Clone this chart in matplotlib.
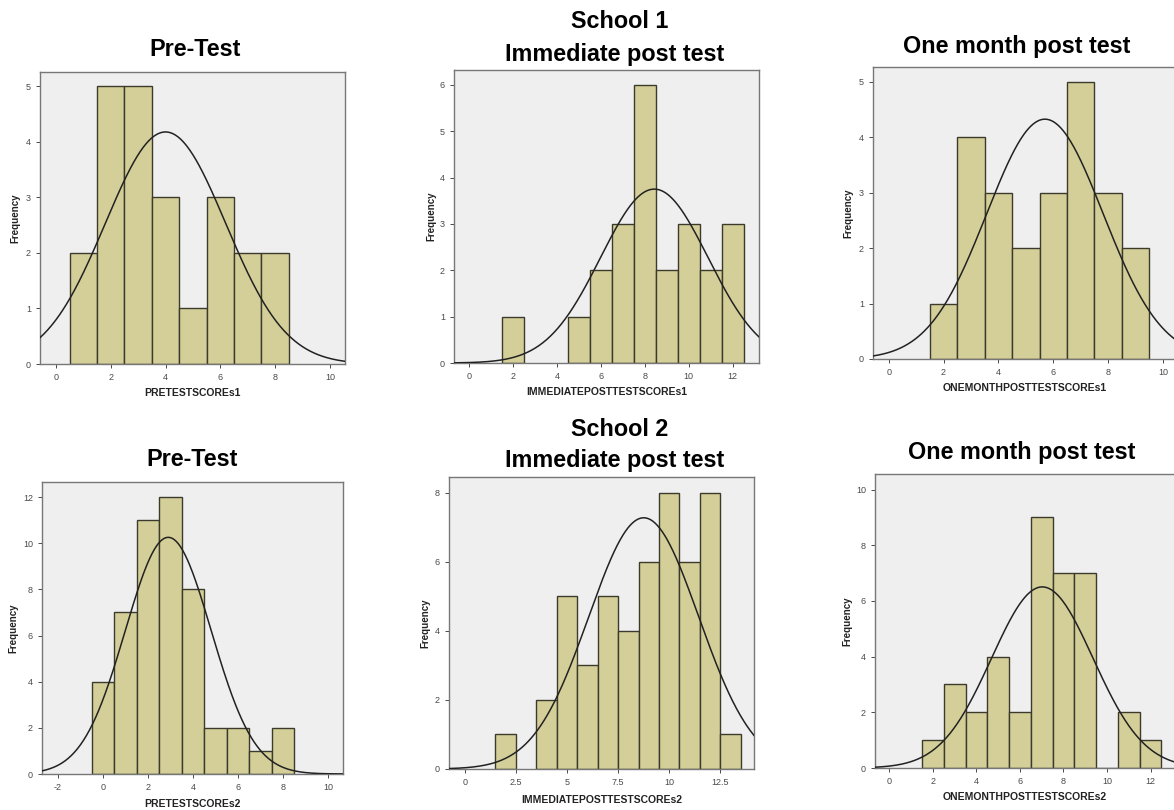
"""Six SPSS-style histograms with fitted normal curves (two schools x three tests)"""
import numpy as np
from matplotlib import pyplot as plt
from matplotlib.ticker import FormatStrFormatter

# bin centres (width 1) and frequencies
pre1_bins = [1, 2, 3, 4, 5, 6, 7, 8]
pre1_counts = [2, 5, 5, 3, 1, 3, 2, 2]

imm1_bins = [2, 5, 6, 7, 8, 9, 10, 11, 12]
imm1_counts = [1, 1, 2, 3, 6, 2, 3, 2, 3]

month1_bins = [2, 3, 4, 5, 6, 7, 8, 9]
month1_counts = [1, 4, 3, 2, 3, 5, 3, 2]

pre2_bins = [0, 1, 2, 3, 4, 5, 6, 7, 8]
pre2_counts = [4, 7, 11, 12, 8, 2, 2, 1, 2]

imm2_bins = [2, 4, 5, 6, 7, 8, 9, 10, 11, 12, 13]
imm2_counts = [1, 2, 5, 3, 5, 4, 6, 8, 6, 8, 1]

month2_bins = [2, 3, 4, 5, 6, 7, 8, 9, 10, 11, 12]
month2_counts = [1, 3, 2, 4, 2, 9, 7, 7, 0, 2, 1]

W, H = 1174, 810
BAR = "#d4cf98"
BG = "#efefef"

plt.rcParams["font.family"] = ["Liberation Sans", "DejaVu Sans"]

fig = plt.figure(figsize=(W / 100, H / 100), dpi=100)


def px_axes(left, top, right, bottom):
    return fig.add_axes([left / W, 1 - bottom / H, (right - left) / W, (bottom - top) / H])


panels = [
    # bins, counts, box (px), xlim, ylim, xticks, yticks, xlabel, xlabel pos, ylabel x
    (pre1_bins, pre1_counts, (40, 72, 345, 364), (-0.58, 10.55), (0, 5.26),
     np.arange(0, 11, 2), range(0, 6), "PRETESTSCOREs1", (192, 393), 15),
    (imm1_bins, imm1_counts, (454, 70, 759, 363), (-0.68, 13.2), (0, 6.32),
     np.arange(0, 13, 2), range(0, 7), "IMMEDIATEPOSTTESTSCOREs1", (607, 392), 431),
    (month1_bins, month1_counts, (873, 67, 1185, 359), (-0.57, 10.8), (0, 5.27),
     np.arange(0, 11, 2), range(0, 6), "ONEMONTHPOSTTESTSCOREs1", (1025, 388), 848),
    (pre2_bins, pre2_counts, (42, 482, 343, 774), (-2.71, 10.66), (0, 12.65),
     np.arange(-2, 11, 2), range(0, 13, 2), "PRETESTSCOREs2", (192, 804), 13),
    (imm2_bins, imm2_counts, (449, 477, 754, 769), (-0.77, 14.15), (0, 8.45),
     np.arange(0, 13, 2.5), range(0, 9, 2), "IMMEDIATEPOSTTESTSCOREs2", (602, 800), 425),
    (month2_bins, month2_counts, (875, 474, 1181, 768), (-0.66, 13.4), (0, 10.56),
     np.arange(0, 13, 2), range(0, 11, 2), "ONEMONTHPOSTTESTSCOREs2", (1025, 797), 847),
]

for bins, counts, box, xlim, ylim, xt, yt, xlab, xlab_pos, ylab_x in panels:
    ax = px_axes(*box)
    ax.set_facecolor(BG)
    ax.bar(bins, counts, width=1.0, color=BAR, edgecolor="#3b3a2c", linewidth=1.0, zorder=2)

    # fitted normal curve from the binned values
    vals = np.repeat(bins, counts)
    mu, sd = vals.mean(), vals.std(ddof=1)
    xs = np.linspace(xlim[0], xlim[1], 400)
    ys = len(vals) * np.exp(-0.5 * ((xs - mu) / sd) ** 2) / (sd * np.sqrt(2 * np.pi))
    ax.plot(xs, ys, color="#222222", linewidth=1.1, zorder=3)

    ax.set_xlim(*xlim)
    ax.set_ylim(*ylim)
    ax.set_xticks(xt)
    ax.set_yticks(list(yt))
    ax.xaxis.set_major_formatter(FormatStrFormatter("%g"))
    ax.tick_params(labelsize=6.5, colors="#4a4a4a", length=3, width=0.7)
    for s in ax.spines.values():
        s.set_color("#777777")
        s.set_linewidth(1.0)

    fig.text(xlab_pos[0] / W, 1 - xlab_pos[1] / H, xlab, ha="center", va="center",
             fontsize=7.5, fontweight="bold", color="#222222")
    mid_y = (box[1] + box[3]) / 2
    fig.text(ylab_x / W, 1 - mid_y / H, "Frequency", ha="center", va="center",
             rotation=90, fontsize=7, fontweight="bold", color="#222222")

titles = [
    ("Pre-Test", 195, 50),
    ("School 1", 620, 22),
    ("Immediate post test", 615, 54),
    ("One month post test", 1017, 47),
    ("Pre-Test", 192, 459),
    ("School 2", 620, 430),
    ("Immediate post test", 615, 461),
    ("One month post test", 1022, 453),
]
for txt, x, y in titles:
    fig.text(x / W, 1 - y / H, txt, ha="center", va="center",
             fontsize=16.8, fontweight="bold", color="black")

fig.savefig("out.png", dpi=100, facecolor="white")
